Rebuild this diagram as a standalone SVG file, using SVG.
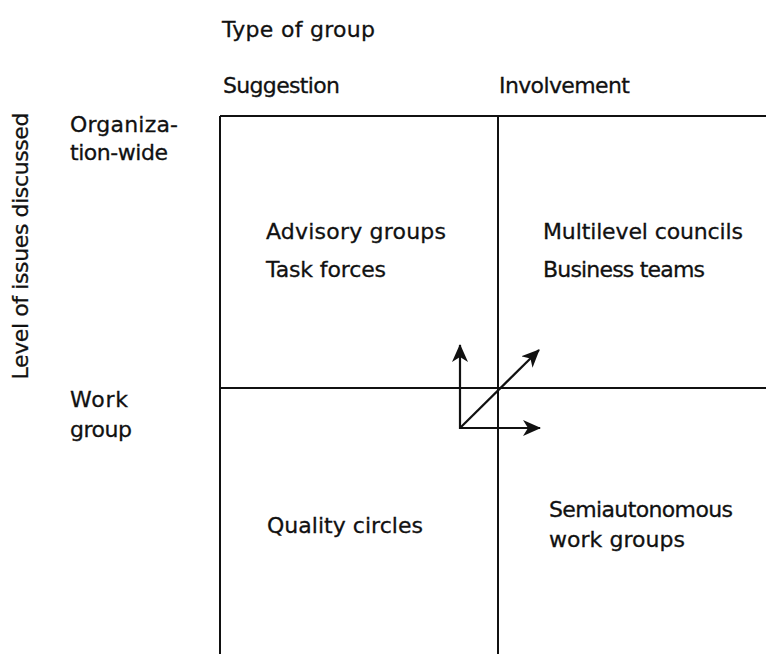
<svg xmlns="http://www.w3.org/2000/svg" width="766" height="654" viewBox="0 0 766 654">
<style>
text { font-family: "DejaVu Sans", "Liberation Sans", sans-serif; font-size: 22px; fill: #111; stroke: #111; stroke-width: 0.3; }
.grid { stroke: #111; stroke-width: 2; fill: none; }
.arr { stroke: #111; stroke-width: 2.2; fill: none; }
</style>
<defs>
<marker id="ah" viewBox="0 0 18 16" refX="17" refY="8" markerWidth="18" markerHeight="16" markerUnits="userSpaceOnUse" orient="auto">
<path d="M0,0 L18,8 L0,16 L5,8 Z" fill="#111"/>
</marker>
</defs>
<rect width="766" height="654" fill="#fff"/>
<g id="axes">
<text id="type-of-group" x="222" y="37" textLength="153">Type of group</text>
<text id="suggestion" x="223" y="93" textLength="117">Suggestion</text>
<text id="involvement" x="499" y="93" textLength="131">Involvement</text>
<text id="level" transform="translate(28,246) rotate(-90)" text-anchor="middle" textLength="267">Level of issues discussed</text>
<text id="org-wide-1" x="70" y="132" textLength="108">Organiza-</text>
<text id="org-wide-2" x="70" y="160" textLength="98">tion-wide</text>
<text id="work-group-1" x="70" y="407" textLength="58">Work</text>
<text id="work-group-2" x="70" y="437" textLength="62">group</text>
</g>
<g id="grid">
<line class="grid" x1="220" y1="116" x2="766" y2="116"/>
<line class="grid" x1="220" y1="388" x2="766" y2="388"/>
<line class="grid" x1="220" y1="116" x2="220" y2="654"/>
<line class="grid" x1="498" y1="116" x2="498" y2="654"/>
</g>
<g id="cell-suggestion-org">
<text x="266" y="239" textLength="180">Advisory groups</text>
<text x="266" y="277" textLength="120">Task forces</text>
</g>
<g id="cell-involvement-org">
<text x="543" y="239" textLength="200">Multilevel councils</text>
<text x="543" y="277" textLength="162">Business teams</text>
</g>
<g id="cell-suggestion-work">
<text x="267" y="533" textLength="156">Quality circles</text>
</g>
<g id="cell-involvement-work">
<text x="549" y="517" textLength="184">Semiautonomous</text>
<text x="549" y="547" textLength="136">work groups</text>
</g>
<g id="connectors">
<line class="arr" x1="460" y1="429" x2="460" y2="345" marker-end="url(#ah)"/>
<line class="arr" x1="459" y1="428" x2="540" y2="428" marker-end="url(#ah)"/>
<line class="arr" x1="460" y1="428" x2="539" y2="350" marker-end="url(#ah)"/>
</g>
</svg>
